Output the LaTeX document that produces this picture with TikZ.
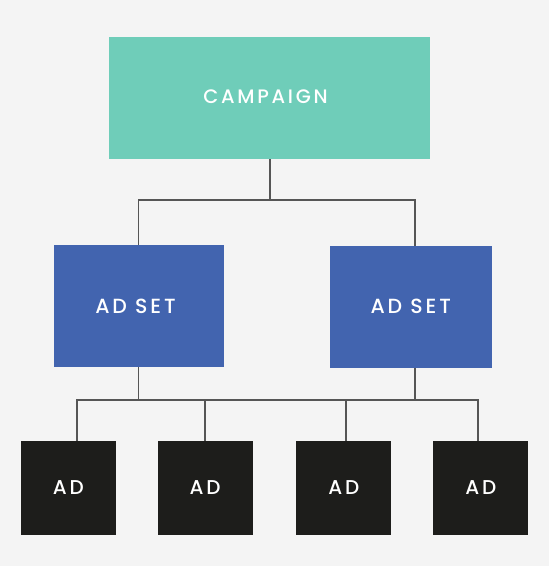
\documentclass[tikz,border=0pt]{standalone}
\usepackage{fontspec}
\setmainfont{Poppins Medium}[LetterSpace=14]
\usetikzlibrary{calc}
\definecolor{bgc}{HTML}{F4F4F4}
\definecolor{tealc}{HTML}{6FCDB9}
\definecolor{bluec}{HTML}{4264AF}
\definecolor{darkc}{HTML}{1D1D1B}
\definecolor{linec}{HTML}{555555}
\begin{document}
\begin{tikzpicture}[x=1pt,y=-1pt,
  boxbase/.style={rectangle, inner sep=0pt, text=white, font=\fontsize{19.5}{21}\selectfont},
  campbox/.style={boxbase, fill=tealc, minimum width=321pt, minimum height=122pt},
  setbox/.style={boxbase, fill=bluec, minimum width=170pt, minimum height=122pt, font=\fontsize{20.5}{22}\selectfont},
  adbox/.style={boxbase, fill=darkc, minimum width=95pt, minimum height=94pt, font=\fontsize{20}{22}\selectfont},
  link/.style={draw=linec, line width=1.3pt}]
\useasboundingbox (0,0) rectangle (549,566);
\fill[bgc] (0,0) rectangle (549,566);
\node[campbox] (camp) at (269.5,98) {\raisebox{3pt}{CAMPAIGN}\hspace*{8pt}};
\node[setbox] (setL) at (138.5,306) {AD SET\hspace*{6pt}};
\node[setbox, minimum width=162.5pt] (setR) at (410.75,307) {\raisebox{2pt}{AD SET}};
\node[adbox] (ad1) at (68.25,488) {AD};
\node[adbox] (ad2) at (205,488) {AD};
\node[adbox] (ad3) at (343.85,488) {AD};
\node[adbox] (ad4) at (480.8,488) {AD};
\coordinate (j0) at (270,200);
\coordinate (jL) at (138.5,200);
\coordinate (jR) at (415,200);
\coordinate (k1) at (77,400);
\coordinate (k4) at (478,400);
\draw[link] (camp.south -| j0) -- (j0);
\draw[link] (setL.north -| jL) -- (jL) -- (jR) -- (setR.north -| jR);
\draw[link] (setL.south) -- (setL.south |- k1);
\draw[link] (setR.south -| jR) -- (jR |- k4);
\draw[link] (ad1.north -| k1) -- (k1) -- (k4) -- (ad4.north -| k4);
\draw[link] (ad2.north) -- (ad2.north |- k1);
\draw[link] ([xshift=2pt]ad3.north) -- ([xshift=2pt]ad3.north |- k1);
\end{tikzpicture}
\end{document}
